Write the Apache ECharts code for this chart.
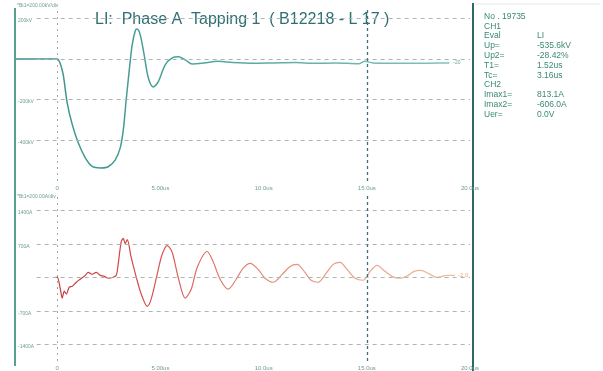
<!DOCTYPE html>
<html><head><meta charset="utf-8">
<script src="https://cdn.jsdelivr.net/npm/echarts@6/dist/echarts.min.js"></script>
<style>html,body{margin:0;padding:0;background:#fff}#c{width:603px;height:371px}</style>
</head><body><div id="c"></div>
<script>
// CH1 voltage (kV) vs time (us)
const vTime = [-2, -1, 0, 0.15, 0.29, 0.48, 0.73, 1.02, 1.36, 1.69, 2.1, 2.47, 2.81, 3.05, 3.2, 3.34, 3.49, 3.63, 3.78, 3.87, 4.02, 4.21, 4.41, 4.65, 4.89, 5.23, 5.57, 5.86, 6.2, 6.54, 7.0, 7.8, 8.5, 9.5, 10.5, 11.5, 12.5, 13.5, 14.6, 14.9, 15.3, 16.5, 17.5, 18.5, 19.0];
const vKV   = [0, 0, 0, -25, -79, -216, -324, -413, -486, -528, -535.6, -530, -496, -437, -349, -201, -54, 69, 138, 147, 118, 20, -93, -138, -113, -29, 5, 10, -5, -25, -22, -12, -18, -22, -20, -18, -22, -20, -24, -12, -20, -22, -22, -20, -20];
// CH2 current (A) vs time (us)
const iTime = [-0.1, 0, 0.15, 0.24, 0.34, 0.44, 0.58, 0.73, 0.92, 1.11, 1.36, 1.5, 1.69, 1.89, 2.08, 2.28, 2.47, 2.71, 2.86, 2.95, 3.1, 3.2, 3.29, 3.39, 3.58, 3.83, 4.07, 4.36, 4.55, 4.84, 5.08, 5.33, 5.57, 5.86, 6.2, 6.49, 6.78, 7.26, 7.55, 7.89, 8.28, 8.67, 9.0, 9.35, 9.73, 10.07, 10.46, 10.9, 11.28, 11.62, 12.0, 12.3, 12.64, 13.03, 13.37, 13.7, 14.04, 14.43, 14.82, 15.16, 15.5, 15.88, 16.22, 16.61, 17.0, 17.29, 17.63, 17.97, 18.4, 18.89, 19.27];
const iAmp  = [0, 0, -250, -435, -290, -350, -207, -187, -104, -41, 41, 104, 62, 104, 41, 20, -20, 0, 41, 270, 747, 813.1, 705, 788, 415, 0, -353, -606, -456, 62, 477, 664, 519, 0, -436, -249, 207, 539, 332, -41, -249, -41, 187, 290, 166, -20, -104, 62, 228, 270, 104, -62, -104, 83, 270, 311, 166, -20, -62, 125, 249, 125, 20, -20, 41, 125, 145, 83, 0, 41, 41];

const vTicks = [200, 0, -200, -400];
const vLabelVals = [200, -200, -400];
const iTicks = [1400, 700, 0, -700, -1400];
const iLabelVals = [1400, 700, -700, -1400];
const xTicks = [0, 5, 10, 15, 20];
const xTickLabels = ['0', '5.00us', '10.0us', '15.0us', '20.0us'];
const title = 'LI:  Phase A  Tapping 1  ( B12218 - L 17 )';
const infoLabels = ['No . 19735', 'CH1', 'Eval', 'Up=', 'Up2=', 'T1=', 'Tc=', 'CH2', 'Imax1=', 'Imax2=', 'Uer='];
const infoValues = ['', '', 'LI', '-535.6kV', '-28.42%', '1.52us', '3.16us', '', '813.1A', '-606.0A', '0.0V'];

const chart = echarts.init(document.getElementById('c'), null, {renderer: 'canvas'});
const FONT = 'Liberation Sans';
const gridColor = '#a9b6b4';
const labCol = '#6f9c94';

function hGrid(ticks) {
  return ticks.map(v => [{coord: [-1, v]}, {coord: [20, v]}]);
}
function vLines(yMin, yMax) {
  return [
    [{coord: [0, yMin], lineStyle: {color: '#a0a8a8', type: [2, 4], width: 1}}, {coord: [0, yMax]}],
    [{coord: [15, yMin], lineStyle: {color: '#3f6f78', type: [3, 3], width: 1.3}}, {coord: [15, yMax]}]
  ];
}
const xAxisBase = (gi) => ({
  type: 'value', gridIndex: gi, min: -2, max: 20,
  axisLine: {show: false}, axisTick: {show: false}, splitLine: {show: false},
  axisLabel: {customValues: xTicks, formatter: v => xTickLabels[xTicks.indexOf(v)],
    fontSize: 6, color: labCol, fontFamily: FONT, margin: 4}
});

const infoText = [];
const infoY0 = 17, infoDy = 9.8;
infoLabels.forEach((l, i) => {
  infoText.push({type: 'text', left: 484, top: infoY0 + i * infoDy - 5,
    style: {text: l, font: '8.5px ' + FONT, fill: '#3a8874'}});
  if (infoValues[i]) infoText.push({type: 'text', left: 537, top: infoY0 + i * infoDy - 5,
    style: {text: infoValues[i], font: '8.5px ' + FONT, fill: '#3a8874'}});
});

chart.setOption({
  animation: false,
  backgroundColor: '#ffffff',
  grid: [
    {left: 16, width: 454, top: 8, height: 173},
    {left: 16, width: 454, top: 193.6, height: 168.7}
  ],
  xAxis: [xAxisBase(0), xAxisBase(1)],
  yAxis: [
    {type: 'value', gridIndex: 0, min: -600, max: 250,
      axisLine: {show: false}, axisTick: {show: false}, splitLine: {show: false},
      axisLabel: {inside: true, customValues: vLabelVals, formatter: v => v + 'kV',
        fontSize: 5, color: labCol, fontFamily: FONT, verticalAlign: 'top', margin: 2}},
    {type: 'value', gridIndex: 1, min: -1750, max: 1750,
      axisLine: {show: false}, axisTick: {show: false}, splitLine: {show: false},
      axisLabel: {inside: true, customValues: iLabelVals, formatter: v => v + 'A',
        fontSize: 5, color: labCol, fontFamily: FONT, verticalAlign: 'top', margin: 2}}
  ],
  series: [
    {type: 'line', xAxisIndex: 0, yAxisIndex: 0, showSymbol: false, smooth: 0.3,
      data: vTime.map((t, i) => [t, vKV[i]]),
      lineStyle: {width: 1.5, color: new echarts.graphic.LinearGradient(0, 0, 1, 0, [
        {offset: 0, color: '#3d8f8a'}, {offset: 0.35, color: '#4aa09a'}, {offset: 1, color: '#84c2bb'}])},
      endLabel: {show: true, formatter: '-20', fontSize: 5, color: '#6aa8a0', distance: 4},
      markLine: {silent: true, symbol: 'none', label: {show: false},
        lineStyle: {color: gridColor, type: [4, 4], width: 1},
        data: hGrid(vTicks).concat(vLines(-600, 250))}
    },
    {type: 'line', xAxisIndex: 1, yAxisIndex: 1, showSymbol: false, smooth: 0.3,
      data: iTime.map((t, i) => [t, iAmp[i]]),
      lineStyle: {width: 1.2, color: new echarts.graphic.LinearGradient(0, 0, 1, 0, [
        {offset: 0, color: '#c83a3a'}, {offset: 0.2, color: '#d24848'}, {offset: 0.45, color: '#e08070'}, {offset: 1, color: '#efc09c'}])},
      endLabel: {show: true, formatter: '-2.0', fontSize: 6, color: '#e8a878', distance: 3},
      markLine: {silent: true, symbol: 'none', label: {show: false},
        lineStyle: {color: gridColor, type: [4, 4], width: 1},
        data: hGrid(iTicks).concat(vLines(-1750, 1750))}
    }
  ],
  graphic: [
    {type: 'line', shape: {x1: 15, y1: 8, x2: 15, y2: 366}, style: {stroke: '#5a9e90', lineWidth: 2}},
    {type: 'line', shape: {x1: 473, y1: 3, x2: 473, y2: 371}, style: {stroke: '#2f6a62', lineWidth: 2}},
    {type: 'line', shape: {x1: 475, y1: 4, x2: 600, y2: 4}, style: {stroke: '#e4e8e8', lineWidth: 1}},
    {type: 'text', left: 17, top: 3, style: {text: '*Bt1=200.00kV/div', font: '5px ' + FONT, fill: labCol}},
    {type: 'text', left: 17, top: 194, style: {text: '*Bt1=200.00A/div', font: '5px ' + FONT, fill: labCol}},
    {type: 'text', left: 95, top: 12, style: {text: title, font: '16px ' + FONT, fill: '#2f6f73'}}
  ].concat(infoText)
});
</script></body></html>
